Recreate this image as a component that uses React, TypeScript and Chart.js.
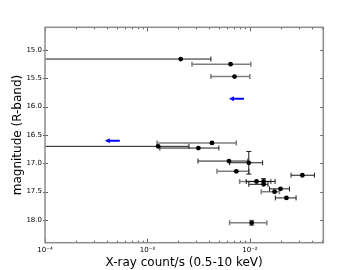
import React, { useEffect, useRef } from "react";
import { Chart, registerables } from "chart.js";

Chart.register(...registerables);

// ---- data ----
// black error-bar series
const blackX = [2.11e-3, 1.27e-3, 3.14e-3, 6.24e-3, 9.75e-3, 1.36e-2, 1.36e-2, 1.99e-2, 2.27e-2, 3.25e-2];
const blackMag = [15.16, 16.70, 16.73, 16.96, 16.99, 17.32, 17.37, 17.45, 17.61, 17.21];
const blackXLo = [1e-6, 1e-6, 1.32e-3, 3.11e-3, 6.33e-3, 9.2e-3, 9.75e-3, 1.55e-2, 1.77e-2, 2.52e-2];
const blackXHi = [4.16e-3, 2.54e-3, 4.98e-3, 9.55e-3, 1.33e-2, 1.76e-2, 1.5e-2, 2.43e-2, 2.82e-2, 4.26e-2];
const blackMagErr = [0, 0, 0, 0, 0.2, 0.05, 0, 0, 0, 0];

// grey error-bar series
const grayX = [6.47e-3, 7.08e-3, 4.26e-3, 7.36e-3, 1.16e-2, 1.74e-2, 1.04e-2];
const grayMag = [15.25, 15.47, 16.64, 17.14, 17.32, 17.50, 18.05];
const grayXLo = [2.72e-3, 4.16e-3, 1.24e-3, 4.77e-3, 7.93e-3, 1.29e-2, 6.33e-3];
const grayXHi = [1.02e-2, 9.98e-3, 7.36e-3, 9.75e-3, 1.6e-2, 1.94e-2, 1.46e-2];
const grayMagErr = [0, 0, 0, 0, 0, 0, 0.04];

// upper limits (blue arrows)
const limitX = [8.73e-3, 5.37e-4];
const limitMag = [15.86, 16.60];

// axes
const xMin = 1e-4;
const xMax = 0.052;
const yMin = 14.6;
const yMax = 18.4;
const xTickValues = [1e-4, 1e-3, 1e-2];
const xTickLabels = ["10\u207B\u2074", "10\u207B\u00B3", "10\u207B\u00B2"];
const yTickValues = [15.0, 15.5, 16.0, 16.5, 17.0, 17.5, 18.0];
const xTitle = "X-ray count/s (0.5-10 keV)";
const yTitle = "magnitude (R-band)";

const FONT = "'DejaVu Sans', sans-serif";

const overlayPlugin = {
  id: "overlay",
  beforeDatasetsDraw(chart: any) {
    const { ctx, chartArea: a, scales } = chart;
    const x = scales.x;
    const y = scales.y;
    ctx.save();
    ctx.beginPath();
    ctx.rect(a.left, a.top, a.right - a.left, a.bottom - a.top);
    ctx.clip();
    const drawSeries = (
      xs: number[], mags: number[], lo: number[], hi: number[], me: number[],
      color: string, lw: number
    ) => {
      ctx.strokeStyle = color;
      ctx.lineWidth = lw;
      xs.forEach((xv, i) => {
        const px = x.getPixelForValue(xv);
        const py = y.getPixelForValue(mags[i]);
        const pl = x.getPixelForValue(lo[i]);
        const ph = x.getPixelForValue(hi[i]);
        ctx.beginPath();
        ctx.moveTo(pl, py);
        ctx.lineTo(ph, py);
        ctx.moveTo(pl, py - 2.5);
        ctx.lineTo(pl, py + 2.5);
        ctx.moveTo(ph, py - 2.5);
        ctx.lineTo(ph, py + 2.5);
        ctx.stroke();
        if (me[i] > 0) {
          const pt = y.getPixelForValue(mags[i] - me[i]);
          const pb = y.getPixelForValue(mags[i] + me[i]);
          ctx.beginPath();
          ctx.moveTo(px, pt);
          ctx.lineTo(px, pb);
          ctx.moveTo(px - 2.5, pt);
          ctx.lineTo(px + 2.5, pt);
          ctx.moveTo(px - 2.5, pb);
          ctx.lineTo(px + 2.5, pb);
          ctx.stroke();
        }
      });
    };
    drawSeries(grayX, grayMag, grayXLo, grayXHi, grayMagErr, "#7d7d7d", 1.5);
    drawSeries(blackX, blackMag, blackXLo, blackXHi, blackMagErr, "#1a1a1a", 1);

    // blue upper-limit arrows pointing left
    ctx.strokeStyle = "#0000ff";
    ctx.fillStyle = "#0000ff";
    ctx.lineWidth = 2;
    limitX.forEach((xv, i) => {
      const px = x.getPixelForValue(xv);
      const py = y.getPixelForValue(limitMag[i]);
      ctx.beginPath();
      ctx.moveTo(px, py);
      ctx.lineTo(px - 11, py);
      ctx.stroke();
      ctx.beginPath();
      ctx.moveTo(px - 15, py);
      ctx.lineTo(px - 10, py - 2.5);
      ctx.lineTo(px - 10, py + 2.5);
      ctx.closePath();
      ctx.fill();
    });
    ctx.restore();
  },
  afterDatasetsDraw(chart: any) {
    const { ctx, chartArea: a, scales } = chart;
    const x = scales.x;
    const y = scales.y;
    ctx.save();
    ctx.strokeStyle = "#333";
    ctx.lineWidth = 0.8;
    ctx.beginPath();
    // x major + minor ticks
    for (let d = -4; d <= -2; d++) {
      for (let k = 1; k <= 9; k++) {
        const v = k * Math.pow(10, d);
        if (v < xMin || v > xMax) continue;
        const px = Math.round(x.getPixelForValue(v)) + 0.5;
        const len = k === 1 ? 4 : 2;
        ctx.moveTo(px, a.bottom);
        ctx.lineTo(px, a.bottom - len);
        ctx.moveTo(px, a.top);
        ctx.lineTo(px, a.top + len);
      }
    }
    // y ticks
    yTickValues.forEach((v) => {
      const py = Math.round(y.getPixelForValue(v)) + 0.5;
      ctx.moveTo(a.left - 2, py);
      ctx.lineTo(a.left + 3, py);
      ctx.moveTo(a.right, py);
      ctx.lineTo(a.right - 3, py);
    });
    ctx.stroke();
    // spines
    ctx.strokeStyle = "#8c8c8c";
    ctx.lineWidth = 1.5;
    ctx.strokeRect(a.left, a.top, a.right - a.left, a.bottom - a.top);
    ctx.restore();
  },
};

export default function App() {
  const ref = useRef<HTMLCanvasElement | null>(null);
  useEffect(() => {
    document.body.style.margin = "0";
    const canvas = ref.current;
    if (!canvas) return;
    const pt = (xs: number[], ms: number[]) => xs.map((v, i) => ({ x: v, y: ms[i] }));
    const chart = new Chart(canvas, {
      type: "scatter",
      data: {
        datasets: [
          {
            label: "grey",
            data: pt(grayX, grayMag),
            backgroundColor: "#000",
            borderWidth: 0,
            pointRadius: 2.4,
          },
          {
            label: "black",
            data: pt(blackX, blackMag),
            backgroundColor: "#000",
            borderWidth: 0,
            pointRadius: 2.4,
          },
        ],
      },
      options: {
        responsive: false,
        animation: false,
        devicePixelRatio: 1,
        events: [],
        layout: { padding: { top: 27.3, right: 36.7, bottom: 0, left: 0 } },
        plugins: { legend: { display: false }, tooltip: { enabled: false } },
        scales: {
          x: {
            type: "logarithmic",
            min: xMin,
            max: xMax,
            grid: { display: false, drawTicks: false },
            border: { display: false },
            afterBuildTicks: (s: any) => {
              s.ticks = xTickValues.map((v) => ({ value: v }));
            },
            afterFit: (s: any) => {
              s.height = 27.3;
            },
            ticks: {
              autoSkip: false,
              maxRotation: 0,
              padding: 3,
              color: "#000",
              font: { family: FONT, size: 7 },
              callback: (v: any) => {
                const i = xTickValues.findIndex((t) => Math.abs(t - v) / t < 1e-6);
                return i >= 0 ? xTickLabels[i] : "";
              },
            },
            title: {
              display: true,
              text: xTitle,
              color: "#000",
              font: { family: FONT, size: 12 },
              padding: { top: 0, bottom: 0 },
            },
          },
          y: {
            type: "linear",
            reverse: true,
            min: yMin,
            max: yMax,
            grid: { display: false, drawTicks: false },
            border: { display: false },
            afterBuildTicks: (s: any) => {
              s.ticks = yTickValues.map((v) => ({ value: v }));
            },
            afterFit: (s: any) => {
              s.width = 45;
            },
            ticks: {
              autoSkip: false,
              padding: 3,
              color: "#000",
              font: { family: FONT, size: 7 },
              callback: (v: any) => Number(v).toFixed(1),
            },
            title: {
              display: true,
              text: yTitle,
              color: "#000",
              font: { family: FONT, size: 12 },
              padding: { top: 11, bottom: 0 },
            },
          },
        },
      },
      plugins: [overlayPlugin],
    } as any);
    return () => chart.destroy();
  }, []);
  return (
    <div style={{ width: 360, height: 270 }}>
      <canvas ref={ref} width={360} height={270} style={{ display: "block" }} />
    </div>
  );
}
